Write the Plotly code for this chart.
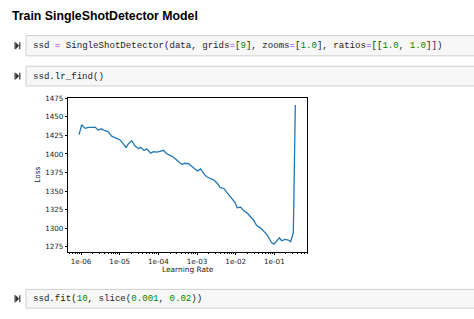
import plotly.graph_objects as go

W, H = 474, 319

# ---- data ----
lr = [8.87e-07, 1.04e-06, 1.27e-06, 1.55e-06, 1.89e-06, 2.30e-06, 2.81e-06, 3.29e-06,
      4.18e-06, 4.90e-06, 6.21e-06, 7.57e-06, 1.02e-05, 1.24e-05, 1.46e-05, 1.67e-05,
      2.04e-05, 2.49e-05, 3.04e-05, 3.49e-05, 4.26e-05, 4.99e-05, 6.34e-05, 7.43e-05,
      9.06e-05, 1.10e-04, 1.35e-04, 1.64e-04, 2.21e-04, 2.70e-04, 3.29e-04, 4.01e-04,
      4.90e-04, 5.97e-04, 7.28e-04, 8.87e-04, 1.02e-03, 1.24e-03, 1.52e-03, 1.78e-03,
      2.17e-03, 2.75e-03, 3.36e-03, 3.94e-03, 4.99e-03, 6.46e-03, 7.89e-03, 9.62e-03,
      1.10e-02, 1.35e-02, 1.64e-02, 2.00e-02, 2.35e-02, 2.86e-02, 3.49e-02, 4.44e-02,
      5.41e-02, 6.34e-02, 7.43e-02, 8.53e-02, 9.79e-02, 1.15e-01, 1.35e-01, 1.55e-01,
      1.89e-01, 2.30e-01, 2.64e-01, 3.10e-01, 3.49e-01]
loss = [1426.1, 1439.4, 1434.6, 1436.0, 1436.0, 1436.3, 1432.0, 1434.0,
        1431.4, 1430.5, 1424.0, 1421.7, 1419.0, 1413.7, 1408.8, 1413.7,
        1418.0, 1410.6, 1407.4, 1409.0, 1404.8, 1407.0, 1401.0, 1403.0,
        1402.6, 1403.4, 1405.0, 1400.3, 1397.2, 1394.0, 1390.6, 1386.0,
        1387.5, 1387.0, 1383.4, 1380.3, 1377.2, 1380.0, 1372.8, 1369.2,
        1367.5, 1364.8, 1360.3, 1355.0, 1353.2, 1346.0, 1341.7, 1334.6,
        1327.5, 1328.3, 1323.0, 1320.3, 1316.0, 1311.4, 1303.5, 1300.0,
        1295.4, 1291.5, 1285.7, 1280.3, 1278.5, 1282.6, 1287.0, 1283.0,
        1284.8, 1283.9, 1281.7, 1293.7, 1466.0]
x_tickvals = [1e-06, 1e-05, 1e-04, 1e-03, 1e-02, 1e-01]
x_ticktext = ["1e-06", "1e-05", "1e-04", "1e-03", "1e-02", "1e-01"]
y_tickvals = [1275, 1300, 1325, 1350, 1375, 1400, 1425, 1450, 1475]

heading = "Train SingleShotDetector Model"
NUM = "#008800"
OP = "#AA22FF"
TXT = "#222222"
code_lines = [
    ("ssd <span style='color:%s'>=</span> SingleShotDetector(data, grids<span style='color:%s'>=</span>[<span style='color:%s'>9</span>], "
     "zooms<span style='color:%s'>=</span>[<span style='color:%s'>1.0</span>], ratios<span style='color:%s'>=</span>[[<span style='color:%s'>1.0</span>, <span style='color:%s'>1.0</span>]])"
     % (OP, OP, NUM, OP, NUM, OP, NUM, NUM)),
    "ssd.lr_find()",
    "ssd.fit(<span style='color:%s'>10</span>, slice(<span style='color:%s'>0.001</span>, <span style='color:%s'>0.02</span>))" % (NUM, NUM, NUM),
]


def px(x):
    return x / W


def py(y):
    return 1 - y / H


fig = go.Figure()
fig.add_trace(go.Scatter(x=lr, y=loss, mode="lines",
                         line=dict(color="#1f77b4", width=1.3), showlegend=False,
                         hoverinfo="skip"))

axis_common = dict(showline=True, mirror=True, linecolor="#000000", linewidth=0.8,
                   ticks="outside", ticklen=2.5, tickwidth=0.7, tickcolor="#000000",
                   showgrid=False, zeroline=False,
                   tickfont=dict(family="DejaVu Sans", size=7.2, color="#222222"))

fig.update_layout(
    width=W, height=H, margin=dict(l=0, r=0, t=0, b=0),
    paper_bgcolor="white", plot_bgcolor="white",
    xaxis=dict(type="log", range=[-6.33, -0.155], domain=[px(68.3), px(307)],
               tickvals=x_tickvals, ticktext=x_ticktext,
               minor=dict(ticks="outside", ticklen=1.5, tickwidth=0.5, tickcolor="#000000",
                          dtick="D1", showgrid=False),
               **axis_common),
    yaxis=dict(range=[1268.4, 1475.8], domain=[py(250.7), py(95)],
               tickvals=y_tickvals, **axis_common),
)

# axis titles
fig.add_annotation(x=px(187.5), y=py(268.5), xref="paper", yref="paper", text="Learning Rate",
                   xanchor="center", yanchor="middle",
                   showarrow=False, font=dict(family="DejaVu Sans", size=7.4, color="#222222"))
fig.add_annotation(x=px(38), y=py(173), xref="paper", yref="paper", text="Loss", textangle=-90,
                   xanchor="center", yanchor="middle",
                   showarrow=False, font=dict(family="DejaVu Sans", size=7.4, color="#222222"))

# heading
fig.add_annotation(x=px(9.5), y=py(12), xref="paper", yref="paper", text="<b>%s</b>" % heading,
                   xanchor="left", yanchor="middle", showarrow=False,
                   font=dict(family="Liberation Sans", size=12.3, color="#000000"))

# code cells
cells = [(32, 52.5), (63, 83), (289, 308)]
for (top, bot), code in zip(cells, code_lines):
    fig.add_shape(type="rect", xref="paper", yref="paper",
                  x0=px(26), x1=px(476), y0=py(bot), y1=py(top),
                  fillcolor="#f7f7f7", line=dict(color="#cfcfcf", width=1), layer="below")
    cy = (top + bot) / 2
    # run icon
    fig.add_shape(type="path", xref="paper", yref="paper",
                  path="M %f %f L %f %f L %f %f L %f %f Z" % (px(14.5), py(cy - 3.5), px(15.7), py(cy - 3.5),
                                                             px(15.7), py(cy + 3.5), px(14.5), py(cy + 3.5)),
                  fillcolor="#333333", line=dict(width=0))
    fig.add_shape(type="path", xref="paper", yref="paper",
                  path="M %f %f L %f %f L %f %f Z" % (px(15.7), py(cy - 3.5), px(19.2), py(cy),
                                                     px(15.7), py(cy + 3.5)),
                  fillcolor="#333333", line=dict(width=0))
    fig.add_shape(type="path", xref="paper", yref="paper",
                  path="M %f %f L %f %f L %f %f L %f %f Z" % (px(19.2), py(cy - 3.5), px(20.4), py(cy - 3.5),
                                                             px(20.4), py(cy + 3.5), px(19.2), py(cy + 3.5)),
                  fillcolor="#333333", line=dict(width=0))
    fig.add_annotation(x=px(30.5), y=py(cy), xref="paper", yref="paper", text=code,
                       xanchor="left", yanchor="middle", showarrow=False,
                       font=dict(family="Liberation Mono", size=9.1, color=TXT))

fig.write_html("out.html")
